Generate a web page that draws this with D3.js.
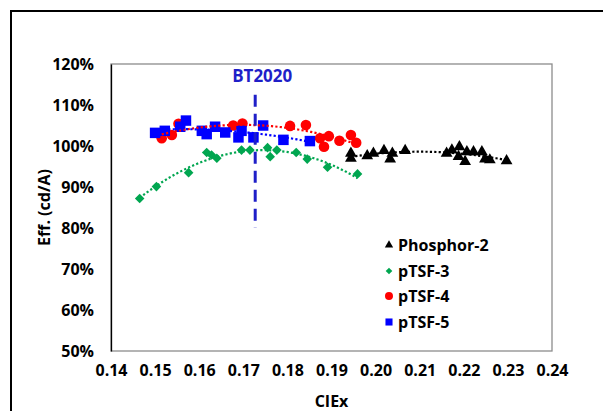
<!DOCTYPE html>
<html>
<head>
<meta charset="utf-8">
<script src="https://cdn.jsdelivr.net/npm/d3@7/dist/d3.min.js"></script>
<style>
body { margin: 0; background: #fff; }
text { font-family: "Open Sans", "Noto Sans", sans-serif; font-weight: bold; }
</style>
</head>
<body>
<svg id="chart" width="603" height="411"></svg>
<script>
// values
const phosphor2X = [0.1944, 0.1944, 0.1981, 0.1995, 0.2019, 0.2038, 0.2033, 0.2067, 0.2161, 0.2173, 0.2190, 0.2188, 0.2203, 0.2207, 0.2222, 0.2241, 0.2248, 0.2259, 0.2297];
const phosphor2Y = [98.2, 97.0, 97.6, 98.2, 98.9, 98.2, 96.8, 98.9, 98.2, 99.0, 99.8, 97.4, 96.2, 98.6, 98.6, 98.6, 96.8, 96.6, 96.4];

const ptsf3X = [0.1465, 0.1503, 0.1576, 0.1617, 0.1628, 0.1640, 0.1696, 0.1715, 0.1755, 0.1761, 0.1776, 0.1820, 0.1845, 0.1891, 0.1959];
const ptsf3Y = [87.2, 90.1, 93.5, 98.4, 97.8, 97.0, 99.0, 99.0, 99.6, 97.4, 99.0, 98.4, 96.8, 94.8, 93.2];

const ptsf4X = [0.1515, 0.1538, 0.1553, 0.1677, 0.1698, 0.1806, 0.1842, 0.1874, 0.1894, 0.1883, 0.1918, 0.1944, 0.1956];
const ptsf4Y = [101.9, 102.7, 105.4, 105.0, 105.5, 104.9, 105.1, 101.9, 102.4, 99.8, 101.3, 102.7, 100.8];

const ptsf5X = [0.1500, 0.1522, 0.1557, 0.1570, 0.1606, 0.1617, 0.1636, 0.1659, 0.1689, 0.1696, 0.1723, 0.1745, 0.1791, 0.1851];
const ptsf5Y = [103.2, 103.7, 104.7, 106.2, 103.7, 102.9, 104.7, 103.3, 102.1, 103.7, 102.1, 105.0, 101.5, 101.2];

const xTicks = [0.14, 0.15, 0.16, 0.17, 0.18, 0.19, 0.20, 0.21, 0.22, 0.23, 0.24];
const yTicks = [50, 60, 70, 80, 90, 100, 110, 120];

const bt2020X = 0.1727;
const bt2020Span = [80, 112.5];

const seriesNames = ["Phosphor-2", "pTSF-3", "pTSF-4", "pTSF-5"];
const seriesColors = ["#000000", "#00A650", "#FF0000", "#0000FF"];

let svg = d3.select("#chart"),
    margin = {top: 64, right: 51, bottom: 60, left: 111},
    width = svg.attr("width") - margin.left - margin.right,
    height = svg.attr("height") - margin.top - margin.bottom;

// outer frame, cut by the picture edge
svg.append("rect")
    .attr("x", 11).attr("y", 11)
    .attr("width", 620).attr("height", 430)
    .attr("fill", "none")
    .attr("stroke", "#000")
    .attr("stroke-width", 2);

let x = d3.scaleLinear().domain([0.14, 0.24]).range([0, width]),
    y = d3.scaleLinear().domain([50, 120]).range([height, 0]);

let g = svg.append("g").attr("transform", "translate(" + margin.left + "," + margin.top + ")");

g.append("rect")
    .attr("width", width).attr("height", height)
    .attr("fill", "none")
    .attr("stroke", "#8c8c8c")
    .attr("stroke-width", 1.3);

let yAxis = g.append("g")
    .call(d3.axisLeft(y).tickValues(yTicks).tickSize(0).tickPadding(17).tickFormat(function(d) { return d + "%"; }));
yAxis.select(".domain").attr("stroke", "#000").attr("stroke-width", 1.3);
yAxis.selectAll("text").style("font-size", "16px").attr("fill", "#000");

let xAxis = g.append("g")
    .attr("transform", "translate(0," + height + ")")
    .call(d3.axisBottom(x).tickValues(xTicks).tickSize(0).tickPadding(14).tickFormat(d3.format(".2f")));
xAxis.select(".domain").remove();
xAxis.selectAll("text").style("font-size", "16px").attr("fill", "#000");

svg.append("text")
    .attr("x", margin.left + width / 2).attr("y", 407)
    .attr("text-anchor", "middle")
    .style("font-size", "16px")
    .text("CIEx");

svg.append("text")
    .attr("transform", "translate(44," + (margin.top + height / 2) + ") rotate(-90)")
    .attr("text-anchor", "middle")
    .attr("dy", "0.35em")
    .style("font-size", "16px")
    .text("Eff. (cd/A)");

// quadratic trendline, least squares on the data
function fitQuad(xs, ys) {
    let s = [0, 0, 0, 0, 0], t = [0, 0, 0];
    xs.forEach(function(xv, i) {
        let p = 1;
        for (let k = 0; k < 5; k++) { s[k] += p; if (k < 3) t[k] += p * ys[i]; p *= xv; }
    });
    let m = [[s[0], s[1], s[2], t[0]], [s[1], s[2], s[3], t[1]], [s[2], s[3], s[4], t[2]]];
    for (let i = 0; i < 3; i++) {
        for (let j = i + 1; j < 3; j++) {
            let f = m[j][i] / m[i][i];
            for (let k = i; k < 4; k++) m[j][k] -= f * m[i][k];
        }
    }
    let c = [0, 0, 0];
    for (let i = 2; i >= 0; i--) {
        let v = m[i][3];
        for (let k = i + 1; k < 3; k++) v -= m[i][k] * c[k];
        c[i] = v / m[i][i];
    }
    return c;
}

let seriesData = [
    {xs: phosphor2X, ys: phosphor2Y, symbol: d3.symbolTriangle, size: 60, rot: 0},
    {xs: ptsf3X, ys: ptsf3Y, symbol: d3.symbolSquare, size: 46, rot: 45},
    {xs: ptsf4X, ys: ptsf4Y, symbol: d3.symbolCircle, size: 88, rot: 0},
    {xs: ptsf5X, ys: ptsf5Y, symbol: d3.symbolSquare, size: 110, rot: 0}
];

let line = d3.line().x(function(d) { return x(d[0]); }).y(function(d) { return y(d[1]); });

seriesData.forEach(function(s, i) {
    let pts = s.xs.map(function(xv, k) { return [xv, s.ys[k]]; });
    g.append("g").selectAll("path")
        .data(pts)
        .enter().append("path")
        .attr("d", d3.symbol().type(s.symbol).size(s.size))
        .attr("transform", function(d) { return "translate(" + x(d[0]) + "," + y(d[1]) + ") rotate(" + s.rot + ")"; })
        .attr("fill", seriesColors[i]);
});

seriesData.forEach(function(s, i) {
    let c = fitQuad(s.xs, s.ys);
    let x0 = d3.min(s.xs), x1 = d3.max(s.xs);
    let curve = d3.range(0, 61).map(function(k) {
        let xv = x0 + (x1 - x0) * k / 60;
        return [xv, c[0] + c[1] * xv + c[2] * xv * xv];
    });
    g.append("path")
        .attr("d", line(curve))
        .attr("fill", "none")
        .attr("stroke", seriesColors[i])
        .attr("stroke-width", 2.2)
        .attr("stroke-dasharray", "2.2,2.2");
});

// BT2020 marker
g.append("line")
    .attr("x1", x(bt2020X)).attr("x2", x(bt2020X))
    .attr("y1", y(bt2020Span[1])).attr("y2", y(bt2020Span[0]))
    .attr("stroke", "#1f1fc8")
    .attr("stroke-width", 3)
    .attr("stroke-dasharray", "12,7");

g.append("text")
    .attr("x", x(bt2020X) + 7).attr("y", y(bt2020Span[1]) - 13)
    .attr("text-anchor", "middle")
    .attr("fill", "#1f1fc8")
    .style("font-size", "17px")
    .text("BT2020");

// legend
let legendY = [245, 271, 296, 322];
let legend = svg.append("g").selectAll("g")
    .data(seriesNames)
    .enter().append("g")
    .attr("transform", function(d, i) { return "translate(389," + legendY[i] + ")"; });

legend.append("path")
    .attr("d", function(d, i) {
        let sizes = [30, 22, 50, 50];
        return d3.symbol().type(seriesData[i].symbol).size(sizes[i])();
    })
    .attr("transform", function(d, i) { return "rotate(" + seriesData[i].rot + ")"; })
    .attr("fill", function(d, i) { return seriesColors[i]; });

legend.append("text")
    .attr("x", 9).attr("dy", "0.35em")
    .style("font-size", "16px")
    .text(function(d) { return d; });
</script>
</body>
</html>
